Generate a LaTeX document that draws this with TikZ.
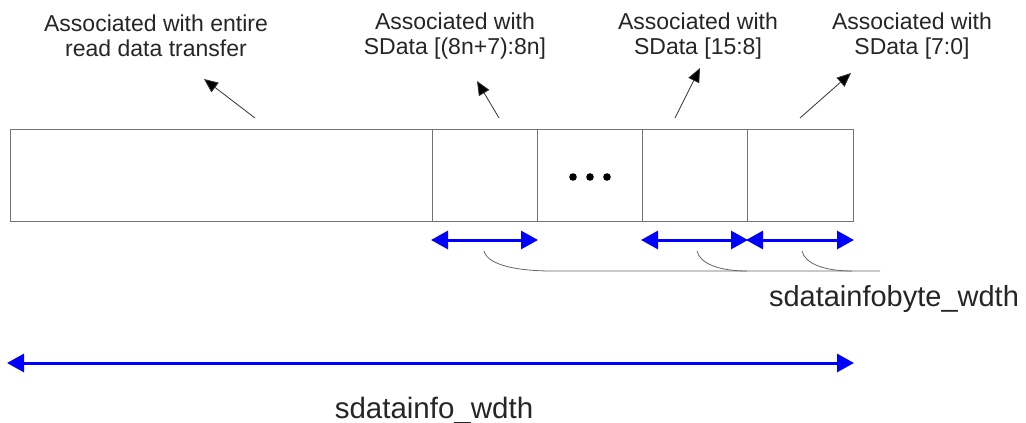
\documentclass[tikz,border=0pt]{standalone}
\usepackage{fontspec}
\setmainfont{Liberation Sans}
\usetikzlibrary{arrows.meta}
\begin{document}
\begin{tikzpicture}[x=1pt,y=-1pt,
  cell/.style={draw=black!55, line width=0.8pt, minimum height=92pt, anchor=north west, inner sep=0pt, outer sep=0pt},
  lbl/.style={align=center, font=\fontsize{23}{25}\selectfont, text=black!85},
  ptr/.style={draw=black!80, line width=0.8pt, -{Triangle[length=14pt,width=12pt,fill=black]}},
  dim/.style={draw=blue, line width=3pt, {Triangle[length=17pt,width=18pt]}-{Triangle[length=17pt,width=18pt]}, shorten <=-1pt, shorten >=-1pt},
  brace/.style={draw=black!60, line width=0.8pt},
  wlbl/.style={font=\fontsize{29}{30}\selectfont, text=black!85, inner sep=0pt, anchor=base}]
\useasboundingbox (0,0) rectangle (1026,423);
\node[cell, minimum width=422pt] (c0) at (10,129) {};
\node[cell, minimum width=105pt] (c1) at (432,129) {};
\node[cell, minimum width=105pt] (c2) at (537,129) {};
\node[cell, minimum width=105pt] (c3) at (642,129) {};
\node[cell, minimum width=106pt] (c4) at (747,129) {};
\fill (573,177) circle (3.8pt) (590,177) circle (3.8pt) (607,177) circle (3.8pt);
\node[lbl] (l0) at (156,36) {Associated with entire\\read data transfer};
\node[lbl] (l1) at (455,36) {Associated with\\SData [(8n+7):8n]};
\node[lbl] (l2) at (698,36) {Associated with\\SData [15:8]};
\node[lbl] (l3) at (912,36) {Associated with\\SData [7:0]};
\coordinate (p0s) at (255,118); \coordinate (p0e) at (204,79);
\coordinate (p1s) at (499,118); \coordinate (p1e) at (477,81);
\coordinate (p2s) at (675,118); \coordinate (p2e) at (700,68);
\coordinate (p3s) at (800,118); \coordinate (p3e) at (851,73);
\draw[ptr] (p0s) -- (p0e);
\draw[ptr] (p1s) -- (p1e);
\draw[ptr] (p2s) -- (p2e);
\draw[ptr] (p3s) -- (p3e);
\coordinate (a1l) at (432,240); \coordinate (a1r) at (537,240);
\coordinate (a3l) at (642,240); \coordinate (a3r) at (747,240);
\coordinate (a4r) at (853,240);
\draw[dim] (a1l) -- (a1r);
\draw[dim] (a3l) -- (a3r);
\draw[dim] (a3r) -- (a4r);
\coordinate (b1) at (484,251); \coordinate (b1e) at (552,271);
\coordinate (b2) at (697,251); \coordinate (b2e) at (747,271);
\coordinate (b3) at (802,251); \coordinate (b3e) at (852,271);
\coordinate (bend) at (880,271);
\draw[brace] (b1) .. controls (488,266) and (520,271) .. (b1e) -- (bend);
\draw[brace] (b2) .. controls (700,264) and (720,271) .. (b2e);
\draw[brace] (b3) .. controls (805,264) and (825,271) .. (b3e);
\node[wlbl] (w1) at (894,306) {sdatainfobyte\_wdth};
\coordinate (dl) at (8,363); \coordinate (dr) at (853,363);
\draw[dim] (dl) -- (dr);
\node[wlbl, font=\fontsize{29.5}{30}\selectfont] (w2) at (434,418) {sdatainfo\_wdth};
\end{tikzpicture}
\end{document}
